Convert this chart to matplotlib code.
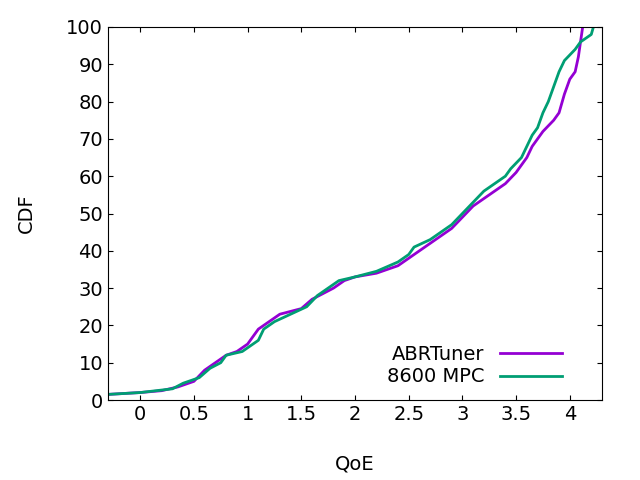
import matplotlib
matplotlib.use("Agg")
import matplotlib.pyplot as plt

abr_x = [-0.3,0,0.2,0.35,0.5,0.6,0.7,0.8,0.9,1.0,1.05,1.1,1.2,1.3,1.5,1.6,1.7,1.8,1.9,2.0,2.2,2.4,2.5,2.6,2.7,2.8,2.9,3.0,3.1,3.2,3.3,3.4,3.5,3.6,3.65,3.7,3.75,3.85,3.9,3.95,4.0,4.05,4.08,4.1,4.12]
abr_y = [1.5,2,2.5,3.5,5,8,10,12,13,15,17,19,21,23,24.5,27,28.5,30,32,33,34,36,38,40,42,44,46,49,52,54,56,58,61,65,68,70,72,75,77,82,86,88,92,96,100]
mpc_x = [-0.3,0,0.3,0.4,0.55,0.65,0.75,0.8,0.95,1.05,1.1,1.15,1.25,1.4,1.55,1.65,1.75,1.85,2.0,2.2,2.4,2.5,2.55,2.7,2.8,2.9,3.0,3.1,3.2,3.3,3.4,3.45,3.55,3.6,3.65,3.7,3.75,3.8,3.85,3.9,3.95,4.05,4.1,4.2,4.22]
mpc_y = [1.5,2,3,4.5,6,8.5,10,12,13,15,16,19,21,23,25,28,30,32,33,34.5,37,39,41,43,45,47,50,53,56,58,60,62,65,68,71,73,77,80,84,88,91,94,96,98,100]
xticks = [0,0.5,1,1.5,2,2.5,3,3.5,4]
xticklabels = ["0","0.5","1","1.5","2","2.5","3","3.5","4"]

fig = plt.figure(figsize=(6.4,4.8), dpi=100)
ax = fig.add_axes([108/640, 1-400/480, (602-108)/640, (400-27)/480])
ax.plot(abr_x, abr_y, color="#9400d3", lw=2.0, label="ABRTuner")
ax.plot(mpc_x, mpc_y, color="#009e73", lw=2.0, label="8600 MPC")
ax.set_xlim(-0.3,4.3); ax.set_ylim(0,100)
ax.set_xticks(xticks); ax.set_xticklabels(xticklabels)
ax.set_yticks(range(0,101,10))
ax.tick_params(direction="in", top=True, right=True, labelsize=14)
ax.set_xlabel("QoE", fontsize=14, labelpad=22); ax.set_ylabel("CDF", fontsize=14, labelpad=22)
ax.legend(loc="lower right", bbox_to_anchor=(1-26/494, 0), frameon=False, markerfirst=False,
          fontsize=14, handlelength=3.2, borderaxespad=0.3, labelspacing=0.2)
fig.savefig("out.png")
